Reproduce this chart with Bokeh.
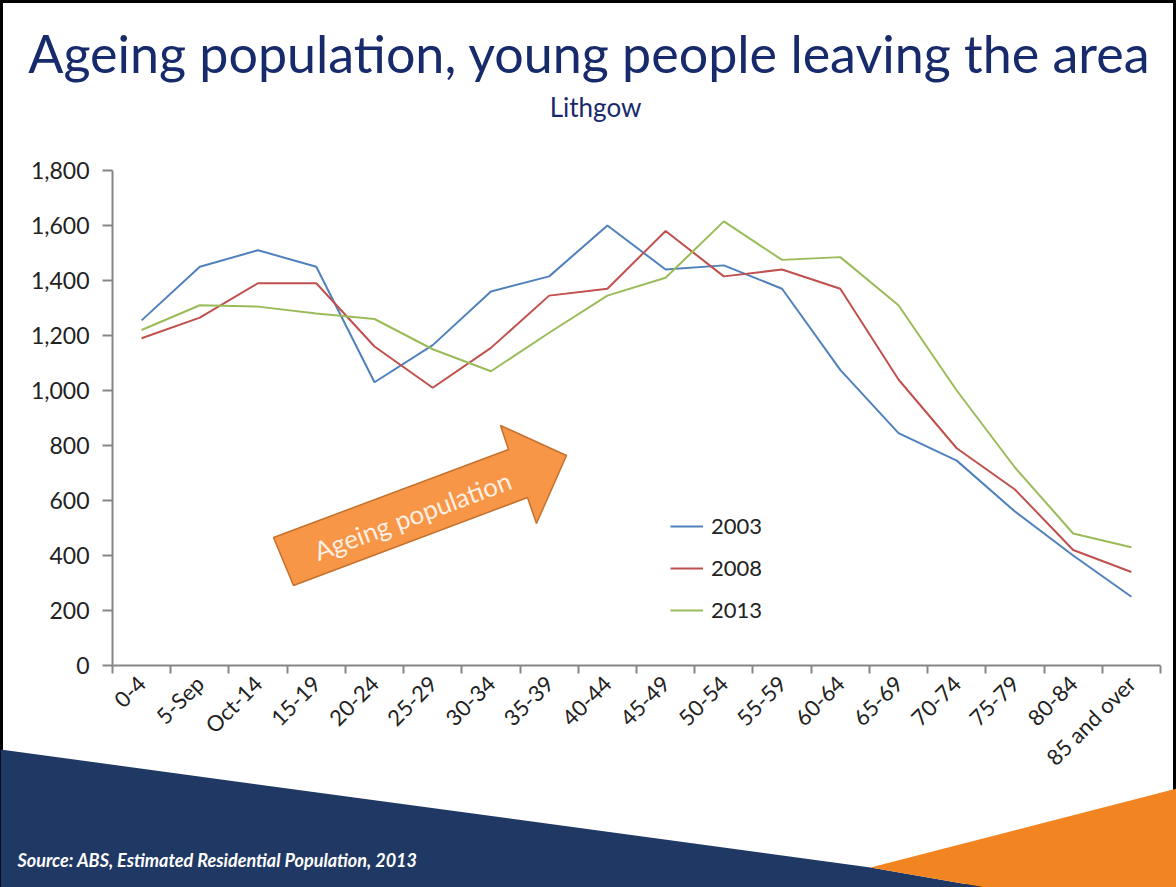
import math
from bokeh.plotting import figure
from bokeh.models import (Range1d, FixedTicker, NumeralTickFormatter, Legend, LegendItem,
                          LinearAxis)
from bokeh.core.properties import value
from bokeh.embed import file_html
from bokeh.resources import INLINE

# ---------------- data ----------------
age_groups = ["0-4", "5-Sep", "Oct-14", "15-19", "20-24", "25-29", "30-34", "35-39",
              "40-44", "45-49", "50-54", "55-59", "60-64", "65-69", "70-74", "75-79",
              "80-84", "85 and over"]
pop_2003 = [1255, 1450, 1510, 1450, 1030, 1165, 1360, 1415, 1600, 1440, 1455, 1370,
            1075, 845, 745, 560, 400, 250]
pop_2008 = [1190, 1265, 1390, 1390, 1160, 1010, 1155, 1345, 1370, 1580, 1415, 1440,
            1370, 1040, 790, 640, 420, 340]
pop_2013 = [1220, 1310, 1305, 1280, 1260, 1150, 1070, 1210, 1345, 1410, 1615, 1475,
            1485, 1310, 1000, 720, 480, 430]
series_names = ["2003", "2008", "2013"]
y_ticks = list(range(0, 1801, 200))
y_max = 1800

title_text = "Ageing population, young people leaving the area"
subtitle_text = "Lithgow"
arrow_text = "Ageing population"
source_text = "Source: ABS, Estimated Residential Population,  2013"

# ---------------- layout / styles ----------------
W, H = 1176, 887
FONT = "Lato"
colors = ["#4F81BD", "#C0504D", "#9BBB59"]
navy = "#1F3864"
axis_col = "#868686"
title_col = "#172a6b"

# plot-area placement in canvas pixels
PL, PR, PT, PB = 112, 1160, 170, 665

n = len(age_groups)
centers = [i + 0.5 for i in range(n)]
bounds = list(range(n + 1))

xs_per_px = n / (PR - PL)
ys_per_px = y_max / (PB - PT)
x_range = Range1d(-PL * xs_per_px, n + (W - PR) * xs_per_px)
y_range = Range1d(-(H - PB) * ys_per_px, y_max + PT * ys_per_px)

p = figure(width=W, height=H, output_backend="svg", toolbar_location=None,
           x_range=x_range, y_range=y_range,
           x_axis_location=None, y_axis_location=None,
           min_border=0, min_border_left=0, min_border_right=0,
           min_border_top=0, min_border_bottom=0,
           background_fill_color="white", border_fill_color="white",
           outline_line_color="black", outline_line_width=5)
p.grid.visible = False

# pixel coordinate space for slide decorations
p.extra_x_ranges = {"px": Range1d(0, W)}
p.extra_y_ranges = {"px": Range1d(H, 0)}

# bottom decorative shapes
p.patch([0, 870, 985, 0], [749, 867, H, H], x_range_name="px", y_range_name="px",
        fill_color=navy, line_color=None)
p.patch([870, W, W, 985], [867, 788, H, H], x_range_name="px", y_range_name="px",
        fill_color="#F28421", line_color=None)

# arrow
p.patch([273, 508, 500, 566, 536, 527, 293], [537, 449, 425, 455, 523, 497, 585],
        x_range_name="px", y_range_name="px",
        fill_color="#F79646", line_color="#C4712E", line_width=1.5)
p.text(x=[412], y=[515], text=[arrow_text], x_range_name="px", y_range_name="px",
       angle=math.radians(20.5), text_align="center", text_baseline="middle",
       text_font=value(FONT), text_font_size="26px", text_color="#FDEFE3")

# titles
p.text(x=[589], y=[52], text=[title_text], x_range_name="px", y_range_name="px",
       text_align="center", text_baseline="middle", text_font=value(FONT),
       text_font_size="52px", text_color=title_col)
p.text(x=[595], y=[106], text=[subtitle_text], x_range_name="px", y_range_name="px",
       text_align="center", text_baseline="middle", text_font=value(FONT),
       text_font_size="26px", text_color=title_col)
p.text(x=[17], y=[859], text=[source_text], x_range_name="px", y_range_name="px",
       text_align="left", text_baseline="middle", text_font=value(FONT),
       text_font_style="bold italic", text_font_size="18px", text_color="white")

# axes (fixed inside the canvas)
xa = LinearAxis(fixed_location=0, bounds=(0, n))
xa.ticker = FixedTicker(ticks=centers, minor_ticks=bounds)
xa.major_label_overrides = {c: g for c, g in zip(centers, age_groups)}
xa.major_tick_line_color = None
xa.minor_tick_line_color = axis_col
xa.minor_tick_line_width = 2
xa.minor_tick_out = 8
xa.minor_tick_in = 0
xa.axis_line_color = axis_col
xa.axis_line_width = 2
xa.major_label_orientation = math.pi / 4
xa.major_label_text_font = FONT
xa.major_label_text_font_size = "22px"
xa.major_label_text_color = "#222222"
xa.major_label_standoff = 6
p.add_layout(xa, "below")

ya = LinearAxis(fixed_location=0, bounds=(0, y_max))
ya.ticker = FixedTicker(ticks=y_ticks, minor_ticks=[])
ya.formatter = NumeralTickFormatter(format="0,0")
ya.major_tick_line_color = axis_col
ya.major_tick_line_width = 2
ya.major_tick_out = 10
ya.major_tick_in = 0
ya.axis_line_color = axis_col
ya.axis_line_width = 2
ya.major_label_text_font = FONT
ya.major_label_text_font_size = "23px"
ya.major_label_text_color = "#222222"
ya.major_label_standoff = 13
p.add_layout(ya, "left")

# lines
renderers = []
for vals, col in zip([pop_2003, pop_2008, pop_2013], colors):
    r = p.line(centers, vals, line_color=col, line_width=2)
    renderers.append(r)

legend = Legend(items=[LegendItem(label=s, renderers=[r]) for s, r in zip(series_names, renderers)],
                location=(670, 264), padding=0, margin=0, spacing=15,
                glyph_width=33, glyph_height=20, label_height=20, label_standoff=8,
                label_text_font=FONT, label_text_font_size="22px", label_text_color="#222222",
                border_line_color=None, background_fill_alpha=0)
p.add_layout(legend, "center")

open("out.html", "w").write(file_html(p, INLINE))
